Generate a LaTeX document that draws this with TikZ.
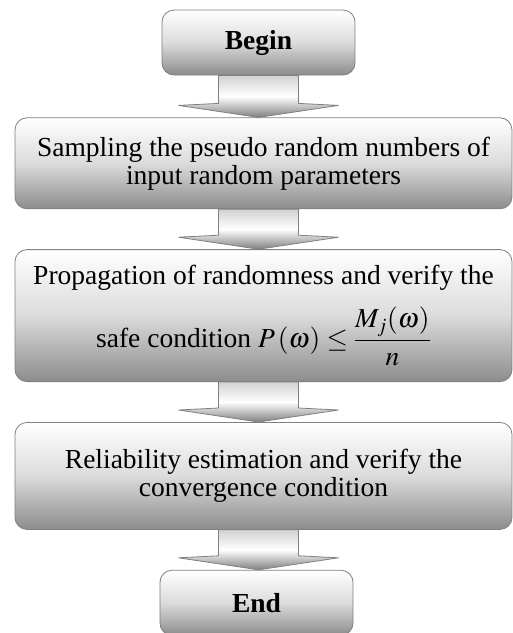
\documentclass[tikz,border=0pt]{standalone}
\usepackage{amsmath}
\usepackage{mathptmx}
\usepackage{fontspec}
\setmainfont{Liberation Serif}
\usetikzlibrary{positioning,calc}

% block arrow from the bottom of one box to the top of the next
\newcommand{\flowarrow}[2]{%
  \path[arr] let \p1=(#1.south -| begin), \p2=(#2.north -| begin) in
    (\x1-40pt,\y1) -- (\x1-40pt,\y2+14pt) -- (\x1-80pt,\y2+12pt) -- (\x2,\y2)
    -- (\x1+80pt,\y2+12pt) -- (\x1+40pt,\y2+14pt) -- (\x1+40pt,\y1) -- cycle;}

\begin{document}
\begin{tikzpicture}[
    x=1pt, y=1pt,
    node distance=40pt,
    box/.style={draw=black!50, line width=0.8pt, rounded corners=12pt, top color=white, bottom color=black!45, middle color=black!14, align=center, inner sep=0pt, font=\fontsize{27.5pt}{28pt}\selectfont},
    endbox/.style={box, minimum width=193pt, minimum height=65pt, font=\fontsize{27.5pt}{28pt}\selectfont\bfseries},
    stepbox/.style={box, minimum width=497pt},
    arr/.style={draw=black!50, line width=0.8pt, top color=black!18, bottom color=black!50, middle color=white}
  ]
    \useasboundingbox (0,0) rectangle (513,-633);
    \node[endbox] (begin) at (258.5,-42.5) {Begin};
    \node[stepbox, minimum height=91pt, below=42pt of begin, xshift=5pt] (sample) {Sampling the pseudo random numbers of\\input random parameters};
    \node[stepbox, minimum height=132pt, below=of sample] (propag) {Propagation of randomness and verify the\\[16pt]safe condition $P\left(\omega\right)\le\dfrac{M_j(\omega)}{n}$};
    \node[stepbox, minimum height=107pt, below=of propag] (reliab) {Reliability estimation and verify the\\convergence condition};
    \node[endbox, below=of reliab, xshift=-7pt] (finish) {End};
    \flowarrow{begin}{sample}
    \flowarrow{sample}{propag}
    \flowarrow{propag}{reliab}
    \flowarrow{reliab}{finish}
  \end{tikzpicture}
\end{document}
